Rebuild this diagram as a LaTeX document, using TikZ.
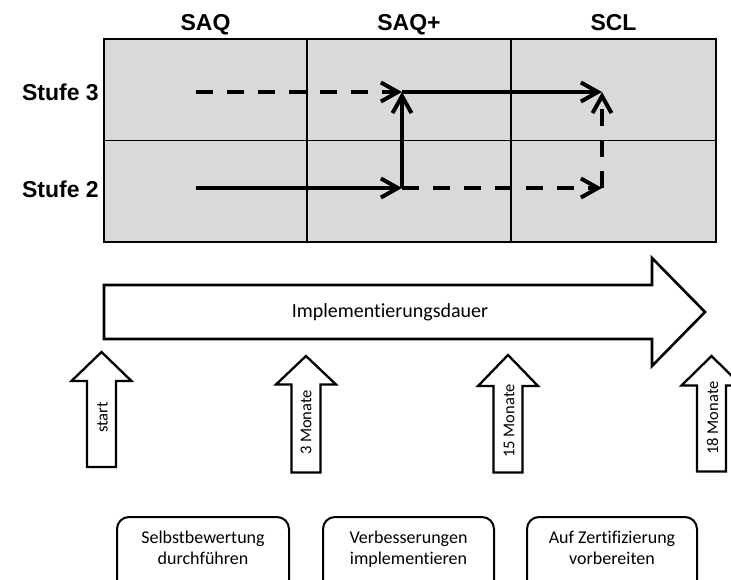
\documentclass[tikz,border=0pt]{standalone}
\usepackage{fontspec}
\setmainfont{Carlito}[Ligatures={NoCommon}]
\newfontfamily\hdrfont{Liberation Sans}
\usetikzlibrary{arrows.meta}
\definecolor{cellgray}{HTML}{D9D9D9}
\begin{document}
\begin{tikzpicture}[x=1pt,y=-1pt,
  hdr/.style={font=\hdrfont\bfseries\fontsize{23}{26}\selectfont, inner sep=0pt, anchor=base},
  flow/.style={line width=4pt, -{Straight Barb[length=17pt,width=19pt]}},
  dashflow/.style={flow, dash pattern=on 17pt off 14pt},
  timearrow/.style={draw=black, line width=2.3pt, fill=white, line join=miter},
  small/.style={font=\fontsize{16.5}{19}\selectfont, inner sep=0pt},
  body/.style={font=\fontsize{20}{22}\selectfont, inner sep=0pt, align=center},
  tasktext/.style={font=\fontsize{18}{20.5}\selectfont, inner sep=0pt, align=center, anchor=base},
  taskbox/.style={draw=black, line width=2pt, rounded corners=12pt}
]
\useasboundingbox (0,0) rectangle (731,579);
\clip (0,0) rectangle (731,579);

% grid
\fill[cellgray] (104,39) rectangle (716,242);
\draw[line width=1.1pt] (104,39) rectangle (716,242);
\draw[line width=1.1pt] (307,39) -- (307,242);
\draw[line width=1.1pt] (511,39) -- (511,242);
\draw[line width=1.1pt] (104,140.5) -- (716,140.5);

% headers
\node[hdr] (saq)  at (205.5,30) {SAQ};
\node[hdr] (saqp) at (409,30) {SAQ+};
\node[hdr] (scl)  at (613.5,30) {SCL};
\node[hdr, anchor=base east] (st3) at (99,100) {Stufe 3};
\node[hdr, anchor=base east] (st2) at (99,197) {Stufe 2};

% path coordinates
\coordinate (a3) at (196,92);
\coordinate (b3) at (402,92);
\coordinate (c3) at (602,92);
\coordinate (a2) at (196,188);
\coordinate (b2) at (402,188);
\coordinate (c2) at (602,188);

\draw[dashflow] (a3) -- (b3);
\draw[flow] (b3) -- (c3);
\draw[flow] (a2) -- (b2);
\draw[dashflow] (b2) -- (c2);
\draw[flow] (b2) -- (b3);
\draw[dashflow] (c2) -- (c3);

% big arrow
\draw[timearrow, line width=2.6pt] (104,285) -- (652,285) -- (652,258) -- (705,312)
  -- (652,366) -- (652,339) -- (104,339) -- cycle;
\node[body] (dauer) at (390,312) {Implementierungsdauer};

% time markers
\draw[timearrow] (87,467) -- (87,381) -- (71.5,381) -- (101.5,352) -- (131.5,381) -- (116,381) -- (116,467) -- cycle;
\node[small, rotate=90] (tstart) at (102.5,417.5) {start};
\draw[timearrow] (291.5,472.5) -- (291.5,384.5) -- (276,384.5) -- (306,356) -- (336,384.5) -- (320.5,384.5) -- (320.5,472.5) -- cycle;
\node[small, rotate=90] (t3) at (306,422.5) {3 Monate};
\draw[timearrow] (493.5,472.5) -- (493.5,386) -- (478,386) -- (508,355) -- (538,386) -- (522.5,386) -- (522.5,472.5) -- cycle;
\node[small, rotate=90] (t15) at (509,421) {15 Monate};
\draw[timearrow] (697,471.5) -- (697,385.5) -- (681.5,385.5) -- (711.5,356) -- (741.5,385.5) -- (726,385.5) -- (726,471.5) -- cycle;
\node[small, rotate=90] (t18) at (712.5,418) {18 Monate};

% task boxes
\draw[taskbox] (117,600) -- (117,517) -- (289,517) -- (289,600);
\node[tasktext] (task1) at (203,564) {Selbstbewertung\\durchführen};
\draw[taskbox] (323,600) -- (323,517) -- (494,517) -- (494,600);
\node[tasktext] (task2) at (408.5,564) {Verbesserungen\\implementieren};
\draw[taskbox] (527,600) -- (527,517) -- (697,517) -- (697,600);
\node[tasktext] (task3) at (612,564) {Auf Zertifizierung\\vorbereiten};
\end{tikzpicture}
\end{document}
